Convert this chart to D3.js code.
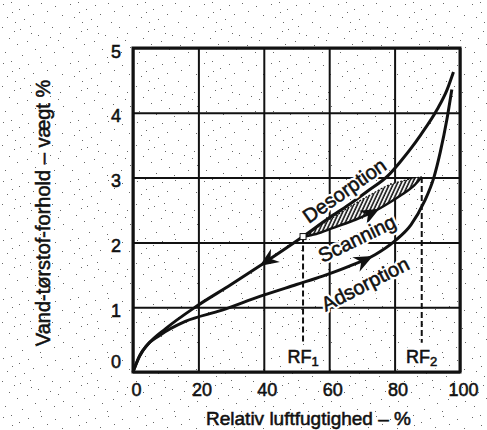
<!DOCTYPE html>
<html>
<head>
<meta charset="utf-8">
<script src="https://cdn.jsdelivr.net/npm/d3@7"></script>
<style>
  body { margin: 0; background: #fff; }
  text { font-family: "Liberation Sans", Arial, Helvetica, sans-serif; fill: #111; }
  .ink { stroke: #111; stroke-width: 0.55px; }
  .halo { fill: #fff; stroke: #fff; stroke-width: 5px; stroke-linejoin: round; }
</style>
</head>
<body>
<svg width="487" height="430"></svg>
<script>
// values (x: relative humidity %, y: water/dry matter %)
var xTicks = [0, 20, 40, 60, 80, 100];
var yTicks = [0, 1, 2, 3, 4, 5];

var desorption = [[0, 0], [2, 0.25], [5, 0.45], [10, 0.67], [19, 1.0], [30, 1.35], [40, 1.68],
  [52, 2.09], [60, 2.38], [66, 2.58], [72, 2.8], [78, 3.03], [82, 3.26], [85, 3.45], [88, 3.66],
  [93, 4.05], [96, 4.35], [98, 4.63]];

var adsorption = [[0, 0], [2, 0.24], [4, 0.4], [8, 0.56], [16, 0.78], [27, 0.95], [39, 1.17],
  [50, 1.35], [58, 1.48], [66, 1.63], [74, 1.81], [80, 2.02], [85, 2.27], [89, 2.62],
  [92, 3.0], [94, 3.4], [96, 3.9], [97.5, 4.36]];

// scanning loop: x, lower edge, upper edge
var scanning = [[52, 2.09, 2.09], [56, 2.13, 2.22], [61, 2.22, 2.38], [67, 2.33, 2.57],
  [73.5, 2.47, 2.76], [78, 2.6, 2.88], [81.7, 2.72, 2.94], [86, 2.88, 2.99], [88.3, 3.01, 3.01]];

var rfLines = [
  {name: "RF", sub: "1", x: 52, top: 2.09},
  {name: "RF", sub: "2", x: 88.3, top: 3.01}
];

var curveLabels = [
  {text: "Desorption", x: 64.6, y: 2.8, angle: -35},
  {text: "Scanning", x: 68.5, y: 2.06, angle: -26},
  {text: "Adsorption", x: 71, y: 1.36, angle: -27}
];

var svg = d3.select("svg"),
    margin = {top: 48, right: 27, bottom: 58, left: 133},
    width = +svg.attr("width") - margin.left - margin.right,
    height = +svg.attr("height") - margin.top - margin.bottom;

var x = d3.scaleLinear().domain([0, 100]).range([0, width]);
var y = d3.scaleLinear().domain([0, 5]).range([height, 0]);

var defs = svg.append("defs");

// speckled paper texture
var stipple = defs.append("pattern")
    .attr("id", "stipple")
    .attr("patternUnits", "userSpaceOnUse")
    .attr("width", 67).attr("height", 59);
[[3, 4], [11, 2], [19, 9], [28, 5], [33, 14], [7, 17], [15, 22], [24, 19], [30, 26], [2, 27],
 [20, 29], [12, 12], [41, 3], [47, 11], [55, 6], [62, 15], [44, 22], [52, 27], [60, 33], [38, 35],
 [9, 38], [17, 44], [27, 41], [35, 49], [46, 45], [54, 52], [63, 47], [5, 52], [22, 55], [40, 57],
 [58, 40], [31, 33], [14, 31], [50, 37]]
  .forEach(function(p) {
    stipple.append("rect").attr("x", p[0]).attr("y", p[1])
        .attr("width", 1).attr("height", 1).attr("fill", "#666");
  });

var hatch = defs.append("pattern")
    .attr("id", "hatch")
    .attr("patternUnits", "userSpaceOnUse")
    .attr("width", 3.4).attr("height", 6)
    .attr("patternTransform", "rotate(25)");
hatch.append("rect").attr("width", 3.4).attr("height", 6).attr("fill", "#fff");
hatch.append("line").attr("x1", 1).attr("x2", 1).attr("y1", 0).attr("y2", 6)
    .attr("stroke", "#111").attr("stroke-width", 1.6);

svg.append("rect").attr("width", 487).attr("height", 430).attr("fill", "#fff");
svg.append("rect").attr("width", 487).attr("height", 430).attr("fill", "url(#stipple)");

var g = svg.append("g")
    .attr("transform", "translate(" + margin.left + "," + margin.top + ")");

// grid
g.append("g")
    .attr("class", "grid")
    .call(d3.axisLeft(y).tickValues(yTicks).tickSize(-width).tickFormat(""))
    .call(function(s) { s.select(".domain").remove(); });
g.append("g")
    .attr("class", "grid")
    .attr("transform", "translate(0," + height + ")")
    .call(d3.axisBottom(x).tickValues(xTicks).tickSize(-height).tickFormat(""))
    .call(function(s) { s.select(".domain").remove(); });
g.selectAll(".grid line").attr("stroke", "#111").attr("stroke-width", 2);

// tick labels
g.append("g")
    .call(d3.axisLeft(y).tickValues(yTicks).tickSize(0).tickPadding(12).tickFormat(d3.format("d")))
    .call(function(s) { s.select(".domain").remove(); })
    .selectAll("text")
      .attr("class", "ink")
      .attr("font-size", 18)
      .attr("fill", "#111")
      .attr("dy", function(d) { return d === 0 ? "-0.25em" : "0.5em"; });
g.append("g")
    .attr("transform", "translate(0," + height + ")")
    .call(d3.axisBottom(x).tickValues(xTicks).tickSize(0).tickPadding(11).tickFormat(d3.format("d")))
    .call(function(s) { s.select(".domain").remove(); })
    .selectAll("text")
      .attr("class", "ink")
      .attr("font-size", 18)
      .attr("fill", "#111")
      .attr("dx", 3);

// axis titles
svg.append("text")
    .attr("class", "ink")
    .attr("x", margin.left + width / 2 + 12)
    .attr("y", 425)
    .attr("text-anchor", "middle")
    .attr("font-size", 19)
    .text("Relativ luftfugtighed – %");
svg.append("text")
    .attr("class", "ink")
    .attr("transform", "translate(50,213) rotate(-90)")
    .attr("text-anchor", "middle")
    .attr("font-size", 20)
    .text("Vand-tørstof-forhold – vægt %");

var line = d3.line()
    .x(function(d) { return x(d[0]); })
    .y(function(d) { return y(d[1]); })
    .curve(d3.curveMonotoneX);

// RF dashed drops
g.selectAll(".rf")
  .data(rfLines)
  .enter().append("line")
    .attr("x1", function(d) { return x(d.x); })
    .attr("x2", function(d) { return x(d.x); })
    .attr("y1", function(d) { return y(d.top); })
    .attr("y2", y(0.45))
    .attr("stroke", "#111").attr("stroke-width", 2)
    .attr("stroke-dasharray", "6,3");

function rfLabel(cls) {
  var t = g.selectAll(".rf-" + cls)
    .data(rfLines)
    .enter().append("text")
      .attr("class", cls)
      .attr("x", function(d) { return x(d.x); })
      .attr("y", y(0) - 9)
      .attr("text-anchor", "middle")
      .attr("font-size", 18)
      .text(function(d) { return d.name; });
  t.append("tspan")
      .attr("font-size", 13)
      .attr("dy", 3)
      .text(function(d) { return d.sub; });
}
rfLabel("halo");
rfLabel("ink");

// scanning loop
var area = d3.area()
    .x(function(d) { return x(d[0]); })
    .y0(function(d) { return y(d[1]); })
    .y1(function(d) { return y(d[2]); })
    .curve(d3.curveMonotoneX);
g.append("path")
    .datum(scanning)
    .attr("d", area)
    .attr("fill", "url(#hatch)");
g.append("path")
    .datum(scanning.map(function(d) { return [d[0], d[2]]; }))
    .attr("d", line)
    .attr("fill", "none").attr("stroke", "#111").attr("stroke-width", 1.2)
    .attr("stroke-dasharray", "2,1.5");
var scanPath = g.append("path")
    .datum(scanning.map(function(d) { return [d[0], d[1]]; }))
    .attr("d", line)
    .attr("fill", "none").attr("stroke", "#111").attr("stroke-width", 2.5);

// main isotherms
var desPath = g.append("path")
    .datum(desorption)
    .attr("d", line)
    .attr("fill", "none").attr("stroke", "#111").attr("stroke-width", 3);
var adsPath = g.append("path")
    .datum(adsorption)
    .attr("d", line)
    .attr("fill", "none").attr("stroke", "#111").attr("stroke-width", 3);

// arrowheads placed along the drawn curves
var arrows = [
  {path: desPath, x: 40, dir: -1},
  {path: adsPath, x: 72, dir: 1},
  {path: scanPath, x: 74, dir: 1}
];
arrows.forEach(function(a) {
  var node = a.path.node(), px = x(a.x), lo = 0, hi = node.getTotalLength();
  for (var i = 0; i < 30; i++) {
    var mid = (lo + hi) / 2;
    if (node.getPointAtLength(mid).x < px) lo = mid; else hi = mid;
  }
  var p = node.getPointAtLength(lo),
      q = node.getPointAtLength(lo + a.dir * 3),
      ang = Math.atan2(q.y - p.y, q.x - p.x) * 180 / Math.PI;
  g.append("path")
      .attr("d", "M5,0 L-14,-8 L-8,0 L-14,8 Z")
      .attr("transform", "translate(" + p.x + "," + p.y + ") rotate(" + ang + ")")
      .attr("fill", "#111");
});

// junction marker at RF1
g.append("rect")
    .attr("x", x(rfLines[0].x) - 3)
    .attr("y", y(rfLines[0].top) - 3)
    .attr("width", 6).attr("height", 6)
    .attr("fill", "#fff").attr("stroke", "#111").attr("stroke-width", 1);

// curve labels with white halo
["halo", "ink"].forEach(function(cls) {
  g.selectAll(".clabel-" + cls)
    .data(curveLabels)
    .enter().append("text")
      .attr("class", cls)
      .attr("transform", function(d) {
        return "translate(" + x(d.x) + "," + y(d.y) + ") rotate(" + d.angle + ")";
      })
      .attr("text-anchor", "middle")
      .attr("dy", "0.35em")
      .attr("font-size", 20)
      .text(function(d) { return d.text; });
});

// frame
g.append("rect")
    .attr("width", width).attr("height", height)
    .attr("fill", "none").attr("stroke", "#111").attr("stroke-width", 3);
</script>
</body>
</html>
